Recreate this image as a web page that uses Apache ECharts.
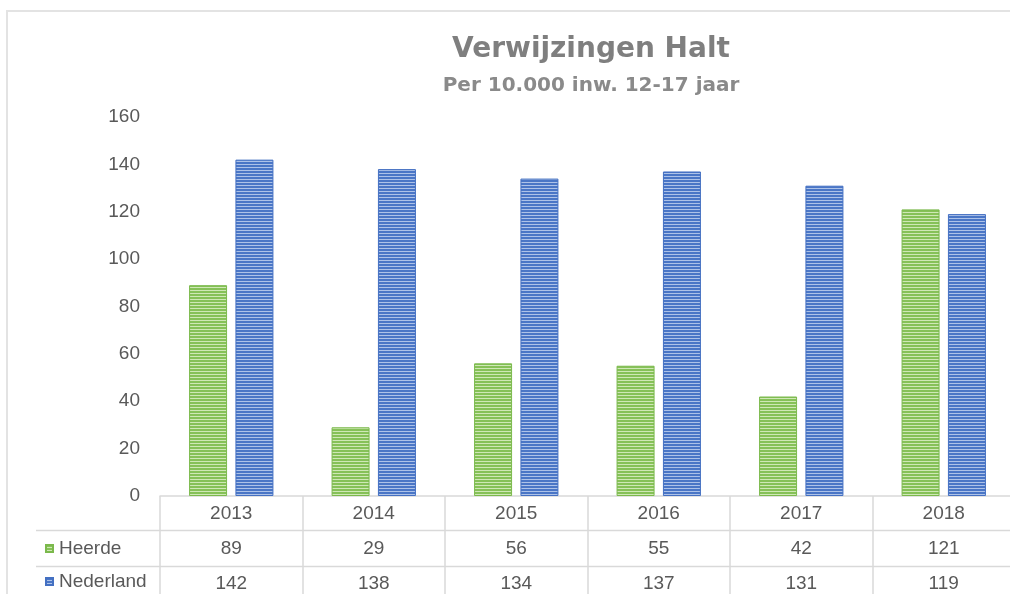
<!DOCTYPE html>
<html>
<head>
<meta charset="utf-8">
<script src="https://cdn.jsdelivr.net/npm/echarts@6/dist/echarts.min.js"></script>
<style>
  html, body { margin: 0; padding: 0; background: #fff; }
  #chart { width: 1010px; height: 594px; }
</style>
</head>
<body>
<div id="chart"></div>
<script>
// data
var years = ['2013', '2014', '2015', '2016', '2017', '2018'];
var heerde = [89, 29, 56, 55, 42, 121];
var nederland = [142, 138, 134, 137, 131, 119];
var seriesNames = ['Heerde', 'Nederland'];
var yTicks = { min: 0, max: 160, interval: 20 };

// horizontal stripe fill, like the excel pattern
function stripes(dark, light) {
    var c = document.createElement('canvas');
    c.width = 4;
    c.height = 3;
    var ctx = c.getContext('2d');
    ctx.fillStyle = light;
    ctx.fillRect(0, 0, 4, 3);
    ctx.fillStyle = dark;
    ctx.fillRect(0, 0, 4, 2);
    return { image: c, repeat: 'repeat' };
}

var textColor = '#595959';
var lineColor = '#d9d9d9';
var font = 'Liberation Sans';
var fontSize = 19;

// legend rows of the data table, one legend per row
function rowLegend(name, top) {
    return {
        left: 40,
        top: top,
        itemWidth: 7,
        itemHeight: 7,
        icon: 'rect',
        data: [name],
        textStyle: { fontFamily: font, fontSize: fontSize, color: textColor, padding: [0, 0, 0, 1] }
    };
}

var myChart = echarts.init(document.getElementById('chart'));
var option = {
    animation: false,
    backgroundColor: '#fff',
    title: {
        text: 'Verwijzingen Halt',
        subtext: 'Per 10.000 inw. 12-17 jaar',
        left: 586,
        top: 31,
        textAlign: 'center',
        itemGap: 12,
        textStyle: { fontFamily: 'DejaVu Sans', fontWeight: 'bold', fontSize: 28, color: '#7f7f7f' },
        subtextStyle: { fontFamily: 'DejaVu Sans', fontWeight: 'bold', fontSize: 20, color: '#8a8a8a' }
    },
    legend: [
        rowLegend(seriesNames[0], 534),
        rowLegend(seriesNames[1], 567)
    ],
    grid: {
        left: 160,
        top: 117,
        width: 855,
        bottom: 98,
        outerBoundsMode: 'none',
        containLabel: false
    },
    xAxis: {
        type: 'category',
        data: years,
        axisLine: { lineStyle: { color: lineColor, width: 1.5 } },
        axisTick: { show: true, length: 100, lineStyle: { color: lineColor, width: 1.5 } },
        axisLabel: {
            margin: 0,
            fontFamily: font,
            fontSize: fontSize,
            color: textColor,
            lineHeight: 35,
            formatter: function (v, i) {
                return v + '\n' + heerde[i] + '\n' + nederland[i];
            }
        }
    },
    yAxis: {
        type: 'value',
        min: yTicks.min,
        max: yTicks.max,
        interval: yTicks.interval,
        axisLine: { show: false },
        axisTick: { show: false },
        splitLine: { show: false },
        axisLabel: { margin: 20, fontFamily: font, fontSize: fontSize, color: textColor }
    },
    graphic: [
        {
            type: 'rect',
            shape: { x: 7, y: 11, width: 1100, height: 700 },
            style: { fill: null, stroke: '#e3e3e3', lineWidth: 2 },
            silent: true
        },
        {
            type: 'line',
            shape: { x1: 36, y1: 530.5, x2: 1010, y2: 530.5 },
            style: { stroke: lineColor, lineWidth: 1.5 },
            silent: true
        },
        {
            type: 'line',
            shape: { x1: 36, y1: 566.5, x2: 1010, y2: 566.5 },
            style: { stroke: lineColor, lineWidth: 1.5 },
            silent: true
        }
    ],
    series: [
        {
            name: seriesNames[0],
            type: 'bar',
            data: heerde,
            barWidth: 38,
            barGap: '22%',
            itemStyle: { color: stripes('#86c158', '#cfe8b6'), borderColor: '#7bb94c', borderWidth: 1 }
        },
        {
            name: seriesNames[1],
            type: 'bar',
            data: nederland,
            barWidth: 38,
            itemStyle: { color: stripes('#4a76c6', '#adc2e8'), borderColor: '#4470c2', borderWidth: 1 }
        }
    ]
};
myChart.setOption(option);
</script>
</body>
</html>
